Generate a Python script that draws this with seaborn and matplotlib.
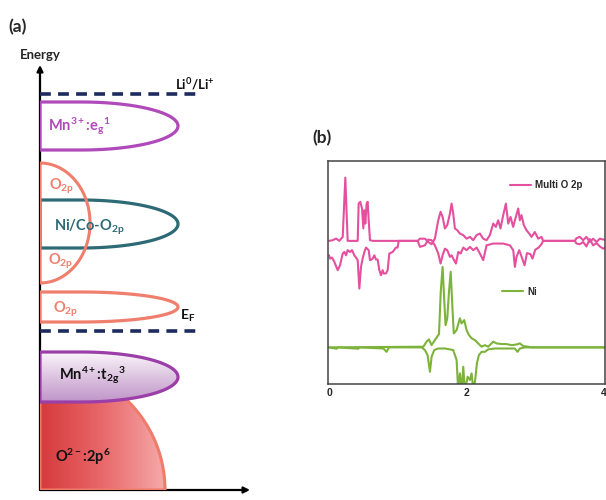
import numpy as np
import matplotlib
matplotlib.use('Agg')
import matplotlib.pyplot as plt
import seaborn as sns
from matplotlib.patches import PathPatch
from matplotlib.path import Path
from matplotlib.colors import LinearSegmentedColormap

sns.set_style('white')
plt.rcParams['font.family'] = ['Lato', 'DejaVu Sans']
plt.rcParams['mathtext.fontset'] = 'custom'
plt.rcParams['mathtext.rm'] = 'Lato:bold'
plt.rcParams['mathtext.it'] = 'Lato:bold'
plt.rcParams['mathtext.bf'] = 'Lato:bold'
plt.rcParams['mathtext.default'] = 'rm'

# ---------------- panel (a) data: schematic band diagram ----------------
band_names = ['Mn3+', 'NiCo', 'O2p_small', 'Mn4+']
band_bottom = [34.0, 24.2, 16.8, 8.8]
band_top = [38.8, 29.0, 19.8, 13.8]
band_width = [13.8, 13.8, 13.8, 13.8]
band_edge = ['#b04abb', '#2d6a75', '#ef7e6d', '#9b3ea8']

o2p_big_bottom, o2p_big_top, o2p_big_width = 20.7, 32.7, 5.0
o2_radius, o2_top = 12.5, 9.2

level_names = ['Li$^{0}$/Li$^{+}$', 'E$_{F}$']
level_energy = [39.6, 15.95]
level_extent = 16.0

label_texts = ['Mn$^{3+}$:e$_{g}{}^{1}$', 'O$_{2p}$', 'Ni/Co-O$_{2p}$', 'O$_{2p}$',
               'O$_{2p}$', 'Mn$^{4+}$:t$_{2g}{}^{3}$', 'O$^{2-}$:2p$^{6}$']
label_x = [0.8, 0.9, 1.4, 0.8, 1.3, 1.9, 1.5]
label_y = [36.4, 30.4, 26.3, 22.9, 18.1, 11.5, 3.3]
label_colors = ['#b04abb', '#ee7f6e', '#2d6a75', '#ee7f6e', '#ee7f6e', '#111111', '#111111']

# ---------------- panel (b) data: DOS curves ----------------
o_up_x = [0, 0.053, 0.102, 0.150, 0.174, 0.199, 0.237, 0.271, 0.417, 0.431, 0.455, 0.480, 0.499,
          0.514, 0.528, 0.547, 0.562, 0.577, 0.596, 0.635, 1.29, 1.323, 1.395, 1.444, 1.492, 1.54,
          1.589, 1.623, 1.652, 1.686, 1.720, 1.759, 1.783, 1.807, 1.831, 1.866, 1.904, 1.953, 2.001,
          2.05, 2.098, 2.147, 2.195, 2.243, 2.292, 2.340, 2.389, 2.427, 2.461, 2.495, 2.534, 2.573,
          2.607, 2.641, 2.679, 2.718, 2.752, 2.776, 2.8, 2.834, 2.873, 2.912, 2.946, 2.994, 3.043,
          3.091, 3.115, 3.576, 3.6, 3.648, 3.697, 3.745, 3.794, 3.842, 3.891, 3.939, 3.988, 4.03]
o_up_dos = [0, 0.03, 0.105, 0, 0.09, 0.18, 2.85, 0, 0, 1.68, 1.76, 1.46, 0.56,
            1.38, 0.78, 1.68, 1.76, 0.93, 0.03, 0, 0, 0.1, 0.1, -0.05, -0.15, 0.1,
            0.93, 1.31, 1.08, 0.56, 0.71, 1.23, 1.68, 1.23, 0.56, 0.48, 0.33, 0.26, 0.1,
            0.18, 0.03, 0.26, 0.33, 0.1, 0.03, 0.26, 0.78, 0.63, 0.93, 0.56, 1.16, 1.68,
            0.78, 1.08, 0.63, 1.08, 1.46, 0.93, 1.16, 0.71, 0.48, 0.33, 0.18, 0.40, 0.10,
            0.18, 0, 0, 0.12, 0.18, 0.03, 0.18, -0.05, 0.10, -0.05, 0.10, 0.06, 0.06]

o_dn_x = [0, 0.015, 0.044, 0.078, 0.126, 0.160, 0.199, 0.223, 0.247, 0.271, 0.305, 0.334, 0.368,
          0.392, 0.417, 0.441, 0.465, 0.489, 0.514, 0.538, 0.577, 0.596, 0.635, 0.659, 0.683, 0.707,
          0.732, 0.756, 0.780, 0.795, 0.828, 0.853, 0.877, 0.926, 0.974, 0.998, 1.013, 1.29, 1.323,
          1.395, 1.444, 1.492, 1.54, 1.589, 1.623, 1.652, 1.686, 1.720, 1.759, 1.783, 1.807, 1.846,
          1.880, 1.914, 1.953, 2.001, 2.05, 2.098, 2.147, 2.195, 2.243, 2.292, 2.389, 2.534, 2.631,
          2.68, 2.704, 2.728, 2.767, 2.80, 2.845, 2.88, 2.93, 2.96, 3.0, 3.05, 3.09, 3.115, 3.576,
          3.6, 3.648, 3.697, 3.745, 3.794, 3.842, 3.891, 3.939, 3.988, 4.03]
o_dn_dos = [-0.65, -0.80, -0.75, -0.95, -1.32, -1.10, -0.57, -0.50, -0.65, -0.42, -0.50, -0.42, -0.65,
            -0.75, -0.87, -2.15, -1.17, -0.80, -0.50, -0.30, -0.42, -0.87, -0.80, -0.65, -0.84, -0.84,
            -1.32, -1.55, -1.32, -1.47, -1.47, -1.32, -0.57, -0.50, -0.30, -0.30, 0, 0, -0.27,
            -0.20, 0.06, 0.03, -0.20, -0.57, -1.02, -0.65, -0.35, -0.42, -0.72, -0.65, -0.80, -1.02,
            -0.50, -0.57, -0.30, -0.42, -0.27, -0.42, -0.30, -0.57, -0.87, -0.20, -0.12, -0.12, -0.20,
            -0.42, -1.17, -0.72, -0.42, -0.70, -1.10, -0.55, -0.60, -0.80, -0.40, -0.30, -0.15, 0, 0,
            -0.12, -0.15, -0.05, -0.25, 0.08, -0.20, -0.10, -0.25, -0.35, -0.30]

ni_up_x = [0, 1.372, 1.42, 1.453, 1.492, 1.54, 1.60, 1.625, 1.652, 1.675, 1.695, 1.72, 1.745, 1.77,
           1.795, 1.815, 1.856, 1.904, 1.928, 1.967, 2.001, 2.035, 2.074, 2.122, 2.17, 2.219, 2.267,
           2.316, 2.389, 2.437, 2.51, 2.582, 2.655, 2.728, 2.776, 2.825, 2.898, 2.946, 4.03]
ni_up_dos = [0, 0.03, 0.26, 0.36, 0.10, 0.33, 0.6, 2.5, 3.63, 2.2, 1.0, 1.3, 2.5, 3.41,
             1.8, 0.63, 0.78, 1.31, 1.08, 1.23, 0.78, 0.56, 0.41, 0.33, 0.18, 0.03, 0.10,
             0.03, 0.26, 0.18, 0.15, 0.15, 0.10, 0.13, 0.18, 0.06, 0.03, 0, 0]

ni_dn_x = [0, 0.111, 0.13, 0.426, 0.44, 0.79, 0.838, 0.872, 1.347, 1.395, 1.434, 1.468, 1.492,
           1.531, 1.589, 1.686, 1.807, 1.856, 1.88, 1.904, 1.928, 1.953, 1.977, 2.016, 2.05, 2.074,
           2.103, 2.132, 2.151, 2.18, 2.219, 2.267, 2.316, 2.413, 2.703, 2.742, 2.776, 2.849, 4.03]
ni_dn_dos = [0, -0.06, 0, -0.06, 0, -0.05, -0.2, 0, 0, -0.12, -0.35, -1.10, -0.42,
             -0.12, -0.05, -0.05, -0.12, -0.57, -2.0, -1.17, -2.0, -0.87, -2.0, -1.32, -1.47, -1.17,
             -2.0, -1.32, -0.72, -0.35, -0.2, -0.2, -0.09, -0.05, -0.05, -0.2, -0.05, 0, 0]

series_names = ['Multi O 2p', 'Ni']
series_offset = [6.45, 1.65]
series_colors = ['#e4509e', '#7db33a']
x_ticks = [0, 2, 4]

# ---------------- figure ----------------
fig = plt.figure(figsize=(6.06, 5.0), dpi=100)

# ===== panel (a) =====
axA = fig.add_axes([40 / 606, 10 / 500, 210 / 606, 425 / 500])
axA.set_xlim(0, 21)
axA.set_ylim(0, 42.5)
axA.axis('off')

# axes arrows
axA.annotate('', xy=(0, 42.5), xytext=(0, 0),
             arrowprops=dict(arrowstyle='-|>', lw=1.6, color='black', mutation_scale=9,
                             shrinkA=0, shrinkB=0), annotation_clip=False, zorder=1)
axA.annotate('', xy=(21, 0), xytext=(0, 0),
             arrowprops=dict(arrowstyle='-|>', lw=1.6, color='black', mutation_scale=9,
                             shrinkA=0, shrinkB=0), annotation_clip=False, zorder=1)
axA.text(0, 43.5, 'Energy', ha='center', va='center', fontsize=9.5, fontweight='bold',
         clip_on=False)


def bullet_path(width, y0, y1, flat=0.3, n=80):
    yc = (y0 + y1) / 2
    ry = (y1 - y0) / 2
    xf = flat * width
    rx = width - xf
    th = np.linspace(0, np.pi, n)
    xs = np.concatenate([[0], xf + rx * np.sin(th), [0]])
    ys = np.concatenate([[y1], yc + ry * np.cos(th), [y0]])
    verts = np.column_stack([xs, ys])
    verts = np.vstack([verts, verts[:1]])
    codes = [Path.MOVETO] + [Path.LINETO] * (len(verts) - 2) + [Path.CLOSEPOLY]
    return Path(verts, codes)


# O2- : 2p6 quarter disc with horizontal red gradient
th_top = np.arcsin(o2_top / o2_radius)
th = np.linspace(0, th_top, 80)
verts = np.vstack([[0, 0], np.column_stack([o2_radius * np.cos(th), o2_radius * np.sin(th)]),
                   [0, o2_top], [0, 0]])
codes = [Path.MOVETO] + [Path.LINETO] * (len(verts) - 2) + [Path.CLOSEPOLY]
o2_patch = PathPatch(Path(verts, codes), facecolor='none', edgecolor='#ef7b6b', lw=2.2, zorder=3)
axA.add_patch(o2_patch)
cm_red = LinearSegmentedColormap.from_list('red', ['#d63a3c', '#e8686a', '#f6a9a9'])
im = axA.imshow(np.linspace(0, 1, 256).reshape(1, -1), extent=[0, o2_radius, 0, o2_top],
                origin='lower', cmap=cm_red, aspect='auto', zorder=2)
im.set_clip_path(o2_patch)

# big O2p half-ellipse
o2p_big = PathPatch(bullet_path(o2p_big_width, o2p_big_bottom, o2p_big_top, flat=0.0),
                    facecolor='none', edgecolor='#ef7e6d', lw=2.2, zorder=5)
axA.add_patch(o2p_big)

# bullet bands
for name, y0, y1, w, ec in zip(band_names, band_bottom, band_top, band_width, band_edge):
    p = PathPatch(bullet_path(w, y0, y1, flat=0.3), facecolor='none', edgecolor=ec,
                  lw=2.3, zorder=4)
    axA.add_patch(p)
    if name == 'Mn4+':
        p.set_zorder(6)
        cm_v = LinearSegmentedColormap.from_list('mn4', ['#bf95c8', '#dcc3e0', '#fbf6fb'])
        im2 = axA.imshow(np.linspace(0, 1, 256).reshape(-1, 1), extent=[0, w, y0, y1],
                         origin='lower', cmap=cm_v, aspect='auto', zorder=5)
        im2.set_clip_path(p)

axA.set_xlim(0, 21)
axA.set_ylim(0, 42.5)

# dashed levels
for lname, e in zip(level_names, level_energy):
    axA.plot([0, level_extent], [e, e], color='#1d2b5e', lw=2.6,
             linestyle=(0, (3.0, 2.0)), zorder=7, solid_capstyle='butt')
axA.text(13.5, 40.6, level_names[0], ha='left', va='center', fontsize=9.5, fontweight='bold',
         color='#111111', clip_on=False)
axA.text(14.0, 17.4, level_names[1], ha='left', va='center', fontsize=10, fontweight='bold',
         color='#111111', clip_on=False)

for t, x, y, c in zip(label_texts, label_x, label_y, label_colors):
    axA.text(x, y, t, ha='left', va='center', fontsize=10.5, fontweight='bold', color=c,
             zorder=9)

fig.text(8 / 606, 1 - 27 / 500, '(a)', fontsize=12.5, fontweight='bold', va='center')

# ===== panel (b) =====
axB = fig.add_axes([328 / 606, (500 - 384) / 500, 277 / 606, 223 / 500])
sns.lineplot(x=o_up_x, y=np.array(o_up_dos) + series_offset[0], ax=axB, color=series_colors[0],
             lw=1.5, sort=False, estimator=None)
sns.lineplot(x=o_dn_x, y=np.array(o_dn_dos) + series_offset[0], ax=axB, color=series_colors[0],
             lw=1.5, sort=False, estimator=None)
sns.lineplot(x=ni_up_x, y=np.array(ni_up_dos) + series_offset[1], ax=axB, color=series_colors[1],
             lw=1.5, sort=False, estimator=None)
sns.lineplot(x=ni_dn_x, y=np.array(ni_dn_dos) + series_offset[1], ax=axB, color=series_colors[1],
             lw=1.5, sort=False, estimator=None)
axB.set_xlim(-0.015, 4.015)
axB.set_ylim(0, 10.05)
axB.set_xticks(x_ticks)
axB.set_xticklabels([str(v) for v in x_ticks], fontsize=7.5, fontweight='bold',
                    family='Liberation Sans')
axB.set_yticks([])
axB.tick_params(axis='x', length=0, pad=3)
for s in axB.spines.values():
    s.set_color('#444444')
    s.set_linewidth(1.1)
axB.set_xlabel('')
axB.set_ylabel('')

lines = axB.get_lines()
lp = dict(family='Liberation Sans', weight='bold', size=7)
leg1 = axB.legend([lines[0]], [series_names[0]], loc='center left', bbox_to_anchor=(0.657, 0.892),
                  frameon=False, borderpad=0, borderaxespad=0, handlelength=2.2,
                  handletextpad=0.4, prop=lp)
axB.add_artist(leg1)
axB.legend([lines[2]], [series_names[1]], loc='center left', bbox_to_anchor=(0.628, 0.413),
           frameon=False, borderpad=0, borderaxespad=0, handlelength=2.2,
           handletextpad=0.4, prop=lp)

fig.text(312 / 606, 1 - 138 / 500, '(b)', fontsize=12.5, fontweight='bold', va='center')

fig.savefig('out.png', dpi=100)
